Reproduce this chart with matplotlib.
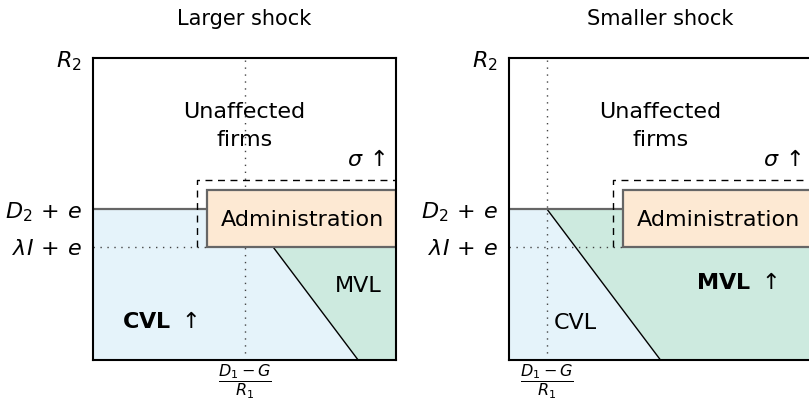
import matplotlib
matplotlib.use("Agg")
import matplotlib.pyplot as plt
from matplotlib.patches import Polygon, Rectangle

plt.rcParams["font.family"] = "DejaVu Sans"
plt.rcParams["mathtext.fontset"] = "dejavusans"

# thresholds on the R2 axis (fraction of the box)
y_d2e = 0.5        # D2 + e
y_lie = 0.375      # lambda*I + e
# administration box and the dashed "sigma up" box
admin_x, admin_top = 0.376, 0.563
dash_x, dash_top = 0.343, 0.596
# the liquidation boundary: slope dx/dy
slope = 0.75

titles = ["Larger shock", "Smaller shock"]
cutoffs = [0.5, 0.125]          # (D1 - G)/R1 on the R1 axis
cvl_labels = [r"$\mathbf{CVL}\ \uparrow$", "CVL"]
mvl_labels = ["MVL", r"$\mathbf{MVL}\ \uparrow$"]
cvl_pos = [(0.22, 0.126), (0.22, 0.122)]
mvl_pos = [(0.875, 0.245), (0.75, 0.255)]

BLUE = "#e5f3fa"
GREEN = "#cdeadf"
ORANGE = "#fde9d3"
GRAY = "#666666"

fig = plt.figure(figsize=(8.09, 4.05), dpi=100)
lefts = [93 / 809, 509 / 809]
FS = 16


def panel(ax, title, xc, cvl, mvl, cpos, mpos):
    ax.set_xlim(0, 1)
    ax.set_ylim(0, 1)
    # boundary line: x = xc + slope*(y_d2e - y)
    def bx(y):
        return xc + slope * (y_d2e - y)

    # green region: right of the boundary, below D2+e but not inside admin
    if bx(y_lie) < admin_x:
        green = [(bx(y_d2e), y_d2e), (admin_x, y_d2e), (admin_x, y_lie),
                 (1, y_lie), (1, 0), (bx(0), 0)]
    else:
        green = [(bx(y_lie), y_lie), (1, y_lie), (1, 0), (bx(0), 0)]
    ax.add_patch(Polygon(green, closed=True, fc=GREEN, ec="none", zorder=1))
    # blue region: left of the boundary
    if bx(y_lie) < admin_x:
        blue = [(0, 0), (0, y_d2e), (bx(y_d2e), y_d2e), (bx(0), 0)]
    else:
        blue = [(0, 0), (0, y_d2e), (admin_x, y_d2e), (admin_x, y_lie),
                (bx(y_lie), y_lie), (bx(0), 0)]
    ax.add_patch(Polygon(blue, closed=True, fc=BLUE, ec="none", zorder=1))

    # boundary line
    ytop = y_d2e if bx(y_lie) < admin_x else y_lie
    ax.plot([bx(ytop), bx(0)], [ytop, 0], color="black", lw=1.0, zorder=3)

    # dotted guides
    ax.plot([xc, xc], [0, 1], color="#444444", lw=1.0, ls=(0, (1, 4)), zorder=2)
    ax.plot([0, admin_x], [y_lie, y_lie], color="#444444", lw=1.0, ls=(0, (1, 4)), zorder=2)
    # D2+e line
    ax.plot([0, admin_x], [y_d2e, y_d2e], color=GRAY, lw=1.6, zorder=3)

    # administration box
    ax.add_patch(Rectangle((admin_x, y_lie), 1 - admin_x, admin_top - y_lie,
                           fc=ORANGE, ec=GRAY, lw=1.6, zorder=4))
    # dashed sigma box
    ax.plot([dash_x, dash_x, 1], [y_lie, dash_top, dash_top], color="black",
            lw=1.0, ls=(0, (5, 4)), zorder=5)

    ax.text(0.5, 0.775, "Unaffected\nfirms", ha="center", va="center", fontsize=FS,
            linespacing=1.45, zorder=6)
    ax.text(0.90, 0.665, r"$\sigma\,\uparrow$", ha="center", va="center", fontsize=FS, zorder=6)
    ax.text(0.69, 0.465, "Administration", ha="center", va="center", fontsize=FS, zorder=6)
    ax.text(*cpos, cvl, ha="center", va="center", fontsize=FS, zorder=6)
    ax.text(*mpos, mvl, ha="center", va="center", fontsize=FS, zorder=6)

    ax.set_xticks([xc])
    ax.set_xticklabels([r"$\dfrac{D_1 - G}{R_1}$"], fontsize=11.5)
    ax.set_yticks([1, y_d2e, y_lie])
    ax.set_yticklabels([r"$R_2$", r"$D_2\,+\,e$", r"$\lambda I\,+\,e$"], fontsize=FS)
    ax.tick_params(axis="y", length=0, pad=8)
    ax.tick_params(axis="x", length=0, pad=2)
    for s in ax.spines.values():
        s.set_linewidth(1.5)
        s.set_zorder(7)
    ax.set_title(title, fontsize=15, pad=24)


for i in range(2):
    ax = fig.add_axes([lefts[i], 45 / 405, 303 / 809, 302 / 405])
    panel(ax, titles[i], cutoffs[i], cvl_labels[i], mvl_labels[i], cvl_pos[i], mvl_pos[i])

fig.savefig("out.png", dpi=100)
